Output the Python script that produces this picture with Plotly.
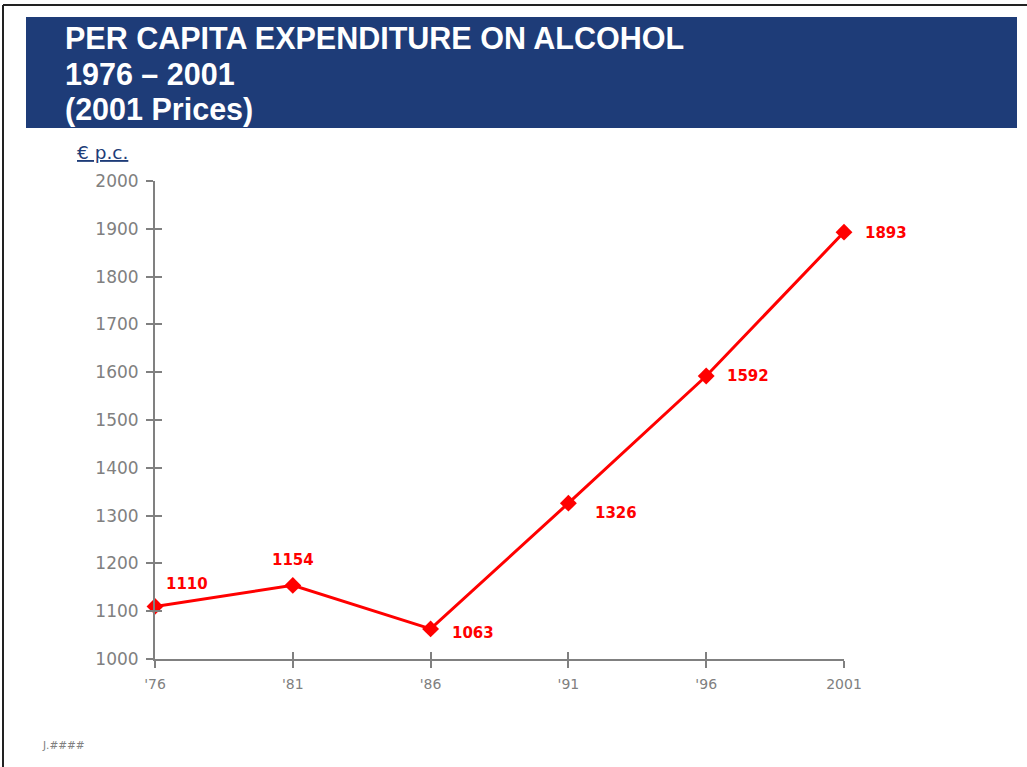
import plotly.graph_objects as go

W, H = 1027, 767

years = ["'76", "'81", "'86", "'91", "'96", "2001"]
values = [1110, 1154, 1063, 1326, 1592, 1893]
y_ticks = [1000, 1100, 1200, 1300, 1400, 1500, 1600, 1700, 1800, 1900, 2000]
title_lines = ["PER CAPITA EXPENDITURE ON ALCOHOL", "1976 \u2013 2001", "(2001 Prices)"]
# label offsets (px): (xshift, yshift, xanchor)
label_style = [(9, 22, "left"), (0, 25, "center"), (19, -4, "left"),
               (25, -10, "left"), (19, 0, "left"), (19, -1, "left")]
# title line centres (px from top)
title_y = [38, 74, 109]

RED = "#FF0000"
NAVY = "#1E3C78"
GRAY = "#808080"

xpos = list(range(len(years)))

fig = go.Figure()
fig.add_trace(go.Scatter(
    x=xpos, y=values, mode="lines+markers",
    line=dict(color=RED, width=3),
    marker=dict(symbol="diamond", size=13, color=RED),
    cliponaxis=False, showlegend=False, hoverinfo="skip"))
# invisible trace for the overlay (inside ticks) axes
fig.add_trace(go.Scatter(x=[xpos[0]], y=[values[0]], xaxis="x2", yaxis="y2",
                         mode="markers", marker=dict(opacity=0), showlegend=False,
                         hoverinfo="skip"))

for x, v, (dx, dy, anc) in zip(xpos, values, label_style):
    fig.add_annotation(x=x, y=v, text=f"<b>{v}</b>", showarrow=False,
                       xshift=dx, yshift=dy, xanchor=anc, yanchor="middle",
                       font=dict(family="DejaVu Sans", size=15, color=RED))

xdom = [155 / W, 844 / W]
ydom = [(H - 659) / H, (H - 181) / H]

axis_common = dict(showgrid=False, zeroline=False, automargin=False)
fig.update_layout(
    width=W, height=H, margin=dict(l=0, r=0, t=0, b=0, autoexpand=False),
    paper_bgcolor="white", plot_bgcolor="white",
    xaxis=dict(domain=xdom, range=[0, 5], tickvals=xpos, ticktext=years,
               showline=True, linecolor=GRAY, linewidth=2,
               ticks="outside", ticklen=7, tickwidth=2, tickcolor=GRAY,
               tickfont=dict(family="DejaVu Sans", size=14, color=GRAY),
               ticklabelstandoff=4, **axis_common),
    yaxis=dict(domain=ydom, range=[1000, 2000], tickvals=y_ticks,
               showline=True, linecolor=GRAY, linewidth=2,
               ticks="outside", ticklen=7, tickwidth=2, tickcolor=GRAY,
               tickfont=dict(family="DejaVu Sans", size=17, color=GRAY),
               ticklabelstandoff=4, **axis_common),
    xaxis2=dict(domain=xdom, range=[0, 5], tickvals=xpos, overlaying="x", anchor="y2",
                ticks="inside", ticklen=7, tickwidth=2, tickcolor=GRAY,
                showticklabels=False, showline=False, **axis_common),
    yaxis2=dict(domain=ydom, range=[1000, 2000], tickvals=y_ticks, overlaying="y",
                anchor="x2", ticks="inside", ticklen=7, tickwidth=2, tickcolor=GRAY,
                showticklabels=False, showline=False, **axis_common),
)

# Frame lines
fig.add_shape(type="line", xref="paper", yref="paper", x0=3 / W, x1=1.0,
              y0=(H - 5) / H, y1=(H - 5) / H, line=dict(color="#222222", width=2))
fig.add_shape(type="line", xref="paper", yref="paper", x0=3 / W, x1=3 / W,
              y0=0, y1=(H - 5) / H, line=dict(color="#222222", width=2))
# Title banner
fig.add_shape(type="rect", xref="paper", yref="paper", x0=26 / W, x1=1017 / W,
              y0=(H - 128) / H, y1=(H - 17) / H, fillcolor=NAVY, line=dict(width=0),
              layer="below")

for line, ty in zip(title_lines, title_y):
    fig.add_annotation(xref="paper", yref="paper", x=63 / W, y=(H - ty) / H,
                       xanchor="left", yanchor="middle", align="left", showarrow=False,
                       text=f"<b>{line}</b>",
                       font=dict(family="Liberation Sans", size=30.5, color="white"))

fig.add_annotation(xref="paper", yref="paper", x=75 / W, y=(H - 152) / H,
                   xanchor="left", yanchor="middle", showarrow=False,
                   text="<u>\u20ac p.c.</u>",
                   font=dict(family="DejaVu Sans", size=18.5, color=NAVY))

fig.add_annotation(xref="paper", yref="paper", x=40 / W, y=(H - 745) / H,
                   xanchor="left", yanchor="middle", showarrow=False,
                   text="J.####",
                   font=dict(family="DejaVu Sans", size=10.5, color=GRAY))

fig.write_html("out.html")
